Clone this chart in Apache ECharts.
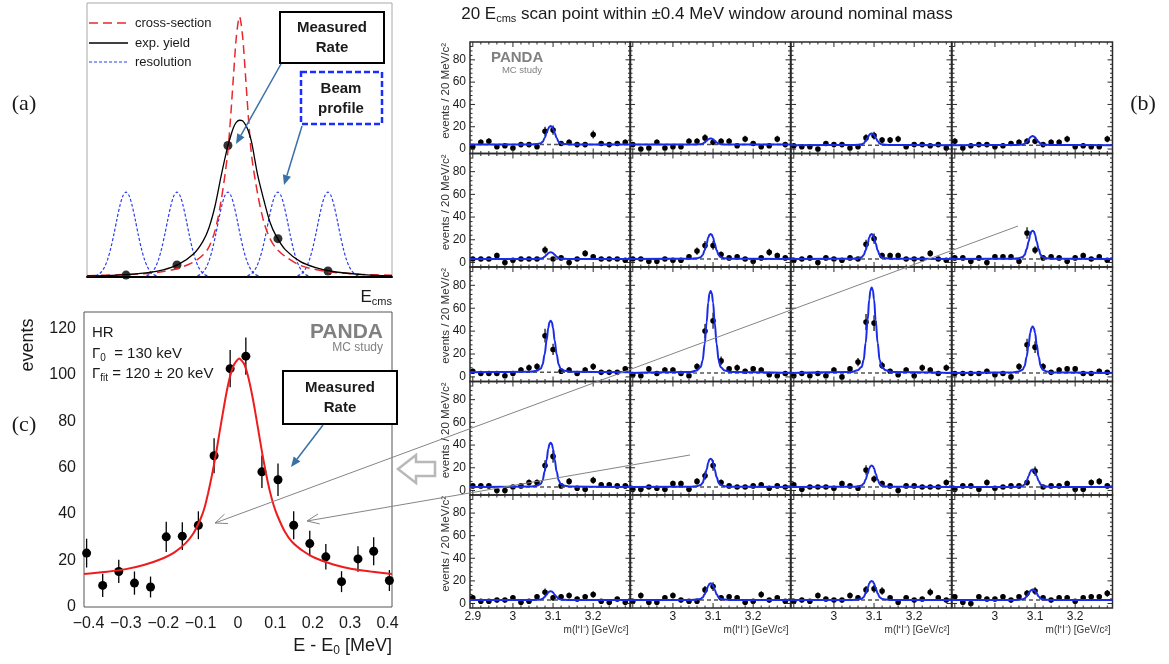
<!DOCTYPE html>
<html>
<head>
<meta charset="utf-8">
<script src="https://cdn.jsdelivr.net/npm/echarts@6/dist/echarts.min.js"></script>
<style>
  html, body { margin: 0; padding: 0; background: #fff; }
  #chart { width: 1169px; height: 664px; }
</style>
</head>
<body>
<div id="chart"></div>
<script>
const FONT = '"Liberation Sans", Arial, sans-serif'
const SERIF = '"Liberation Serif", "Times New Roman", serif'

// ---- (a) schematic: cross-section, yield, beam resolution ----
const aX = [-0.5, -0.4, -0.3, -0.25, -0.2, -0.15, -0.12, -0.1, -0.08, -0.06, -0.04, -0.03, -0.02, -0.01, 0,
  0.01, 0.02, 0.03, 0.04, 0.06, 0.08, 0.1, 0.12, 0.15, 0.2, 0.25, 0.3, 0.4, 0.5]
const aYield = [0.004, 0.007, 0.016, 0.026, 0.046, 0.085, 0.13, 0.18, 0.26, 0.37, 0.47, 0.51, 0.545, 0.565, 0.572,
  0.57, 0.555, 0.53, 0.49, 0.37, 0.28, 0.2, 0.15, 0.1, 0.056, 0.034, 0.021, 0.009, 0.004]
const aXsec = [0.005, 0.008, 0.013, 0.02, 0.032, 0.055, 0.08, 0.11, 0.17, 0.28, 0.44, 0.57, 0.73, 0.88, 0.95,
  0.88, 0.73, 0.57, 0.44, 0.3, 0.2, 0.14, 0.105, 0.075, 0.042, 0.027, 0.018, 0.01, 0.006]
const beamCenters = [-0.372, -0.205, -0.038, 0.126, 0.29]
const beamPeak = 0.31
const beamDx = [-0.1, -0.09, -0.08, -0.07, -0.06, -0.05, -0.04, -0.03, -0.02, -0.01, 0,
  0.01, 0.02, 0.03, 0.04, 0.05, 0.06, 0.07, 0.08, 0.09, 0.1]
const beamShape = [0.013, 0.03, 0.063, 0.12, 0.211, 0.339, 0.5, 0.678, 0.841, 0.958, 1,
  0.958, 0.841, 0.678, 0.5, 0.339, 0.211, 0.12, 0.063, 0.03, 0.013]
const ratePoints = [0.007, 0.044, 0.48, 0.14, 0.022]

// ---- (c) measured rate vs E - E0 ----
const scanE = [-0.405, -0.362, -0.319, -0.277, -0.234, -0.192, -0.149, -0.106, -0.064, -0.021,
  0.021, 0.064, 0.107, 0.149, 0.192, 0.235, 0.277, 0.321, 0.363, 0.405]
const scanEvents = [23.2, 9.3, 15.3, 10.3, 8.6, 30.2, 30.5, 35.2, 65.1, 102.6,
  108, 58.2, 54.8, 35.2, 27.3, 21.6, 10.9, 20.7, 24, 11.4]
const scanErr = [6.2, 5, 5, 5, 4.5, 6.5, 6, 6, 7.5, 8, 8, 7, 7, 6, 5.5, 5.5, 4.5, 5.5, 6, 4.5]
const fitE = [-0.412, -0.35, -0.3, -0.25, -0.2, -0.17, -0.14, -0.12, -0.1, -0.09, -0.08, -0.07, -0.06,
  -0.05, -0.04, -0.03, -0.02, -0.01, 0.003, 0.015, 0.025, 0.035, 0.045, 0.055, 0.065, 0.075, 0.085,
  0.095, 0.105, 0.125, 0.145, 0.175, 0.205, 0.255, 0.305, 0.355, 0.412]
const fitEvents = [14.2, 15.2, 16.3, 18.2, 21, 23.5, 27.5, 31.5, 38, 42.5, 49, 56.5, 65,
  74.5, 84, 93, 100, 104.5, 107, 105, 100.5, 93.5, 85, 75.5, 66, 57.5, 50,
  44, 39.5, 32.5, 28, 24, 21.2, 18.3, 16.4, 15.3, 14.2]
const eLabels = [-0.4, -0.3, -0.2, -0.1, 0, 0.1, 0.2, 0.3, 0.4]
const eventLabels = [0, 20, 40, 60, 80, 100, 120]

// ---- (b) 20 invariant mass spectra ----
const massBins = [2.90, 2.92, 2.94, 2.96, 2.98, 3.00, 3.02, 3.04, 3.06, 3.08,
  3.10, 3.12, 3.14, 3.16, 3.18, 3.20, 3.22, 3.24, 3.26, 3.28]
const scan1 = [2, 6, 7, 2, 3, 1, 4, 4, 2, 16, 17, 5, 6, 4, 4, 13, 5, 4, 5, 6]
const scan2 = [4, 0, 1, 6, 1, 2, 2, 7, 7, 10, 6, 7, 7, 3, 9, 5, 2, 3, 9, 4]
const scan3 = [3, 2, 2, 0, 5, 4, 4, 1, 2, 10, 12, 8, 8, 9, 2, 4, 4, 3, 4, 1]
const scan4 = [7, 1, 3, 4, 4, 2, 3, 5, 6, 7, 7, 4, 6, 6, 9, 2, 3, 2, 2, 9]
const scan5 = [3, 3, 3, 6, 0, 2, 3, 3, 3, 11, 3, 4, 0, 3, 8, 5, 3, 3, 3, 2]
const scan6 = [3, 3, 1, 1, 3, 2, 2, 5, 10, 15, 15, 7, 4, 5, 3, 1, 4, 9, 6, 4]
const scan7 = [2, 3, 4, 0, 4, 3, 2, 4, 3, 16, 21, 6, 6, 6, 3, 3, 3, 8, 3, 2]
const scan8 = [4, 4, 1, 4, 0, 5, 5, 5, 1, 26, 11, 4, 5, 4, 1, 4, 6, 3, 5, 2]
const scan9 = [5, 3, 3, 3, 1, 3, 6, 8, 9, 36, 24, 5, 6, 3, 6, 9, 4, 4, 4, 7]
const scan10 = [2, 1, 7, 3, 6, 6, 3, 1, 9, 40, 49, 14, 7, 8, 5, 7, 6, 2, 1, 3]
const scan11 = [1, 3, 1, 3, 1, 6, 0, 7, 13, 48, 47, 10, 5, 2, 6, 1, 8, 6, 3, 8]
const scan12 = [3, 3, 3, 3, 5, 2, 3, 0, 9, 28, 26, 9, 4, 6, 7, 7, 3, 3, 5, 4]
const scan13 = [4, 4, 4, 0, 0, 3, 4, 7, 7, 22, 30, 4, 8, 2, 1, 9, 5, 5, 4, 4]
const scan14 = [1, 1, 3, 2, 1, 6, 6, 1, 8, 13, 22, 7, 4, 3, 3, 4, 5, 2, 4, 3]
const scan15 = [5, 1, 3, 3, 3, 2, 6, 4, 2, 18, 10, 6, 4, 0, 4, 4, 3, 3, 3, 7]
const scan16 = [1, 4, 4, 1, 7, 2, 3, 4, 4, 7, 17, 3, 4, 4, 6, 1, 1, 7, 8, 4]
const scan17 = [5, 2, 2, 3, 3, 5, 1, 2, 6, 10, 5, 6, 7, 4, 6, 8, 2, 1, 4, 1]
const scan18 = [2, 7, 1, 1, 5, 7, 3, 2, 2, 12, 15, 5, 6, 5, 1, 2, 8, 3, 5, 2]
const scan19 = [2, 3, 2, 7, 4, 3, 3, 7, 5, 12, 13, 11, 5, 1, 5, 3, 4, 10, 5, 3]
const scan20 = [6, 1, 0, 6, 4, 4, 6, 3, 6, 9, 11, 5, 3, 5, 5, 2, 5, 6, 6, 9]
const scans = [scan1, scan2, scan3, scan4, scan5, scan6, scan7, scan8, scan9, scan10,
  scan11, scan12, scan13, scan14, scan15, scan16, scan17, scan18, scan19, scan20]
const fitTop = [20.6, 9.5, 14, 11.6, 9, 25, 25, 28, 49, 75, 78, 44, 42, 28, 22, 18.5, 10.8, 17.8, 20, 12.3]
const fitBg = [4, 4, 3.5, 3.5, 3, 3, 3, 3, 4, 3.5, 3.5, 3.5, 3, 3, 3, 3, 3, 3, 3, 3]
const fitMass = 3.094
const peakDx = [-0.05, -0.035, -0.025, -0.02, -0.015, -0.01, -0.006, -0.003, 0, 0.003, 0.006, 0.01, 0.015, 0.02, 0.025, 0.035, 0.05]
const peakShape = [0.01, 0.03, 0.07, 0.15, 0.35, 0.62, 0.86, 0.97, 1, 0.97, 0.86, 0.62, 0.35, 0.15, 0.07, 0.03, 0.01]
const massLabelsFirst = [2.9, 3, 3.1, 3.2]
const massLabels = [3, 3.1, 3.2]
const countLabels = [0, 20, 40, 60, 80]

const grid = []
const xAxis = []
const yAxis = []
const series = []
const graphic = []

function axis(gi, min, max, labels, fmt, size, margin) {
  return {
    gridIndex: gi, type: 'value', min: min, max: max,
    axisLine: { show: false }, axisTick: { show: false }, splitLine: { show: false },
    axisLabel: labels ? {
      show: true, customValues: labels, formatter: fmt, fontSize: size,
      fontFamily: FONT, color: '#1a1a1a', margin: margin
    } : { show: false }
  }
}

function errItem(r, lw) {
  return function(params, api) {
    const x = api.value(0)
    const y = api.value(1)
    const e = api.value(2)
    const p = api.coord([x, y])
    const hi = api.coord([x, y + e])
    const lo = api.coord([x, y - e])
    return {
      type: 'group',
      children: [
        { type: 'line', shape: { x1: p[0], y1: hi[1], x2: p[0], y2: lo[1] }, style: { stroke: '#000', lineWidth: lw }},
        { type: 'circle', shape: { cx: p[0], cy: p[1], r: r }, style: { fill: '#000' }}
      ]
    }
  }
}

// ROOT style ticks drawn inside the frame on all four sides
function tickItem(params, api) {
  const cs = params.coordSys
  const side = api.value(2)
  const len = api.value(3)
  const p = api.coord([api.value(0), api.value(1)])
  let s
  if (side === 0) s = { x1: p[0], y1: cs.y + cs.height, x2: p[0], y2: cs.y + cs.height - len }
  else if (side === 1) s = { x1: p[0], y1: cs.y, x2: p[0], y2: cs.y + len }
  else if (side === 2) s = { x1: cs.x, y1: p[1], x2: cs.x + len, y2: p[1] }
  else s = { x1: cs.x + cs.width, y1: p[1], x2: cs.x + cs.width - len, y2: p[1] }
  return { type: 'line', shape: s, style: { stroke: '#2a2a2a', lineWidth: 1 }}
}

// ---------- panel (a) ----------
grid.push({ left: 87, top: 3, width: 305, height: 274, show: true, borderColor: '#a8a8a8', borderWidth: 1 })
xAxis.push({
  gridIndex: 0, type: 'value', min: -0.5, max: 0.5,
  axisLine: { show: true, onZero: false, lineStyle: { color: '#000', width: 2 }},
  axisTick: { show: false }, axisLabel: { show: false }, splitLine: { show: false }
})
yAxis.push(axis(0, 0, 1, null))
beamCenters.forEach(function(c) {
  series.push({
    type: 'line', xAxisIndex: 0, yAxisIndex: 0, symbol: 'none', smooth: 0.3,
    data: beamDx.map(function(d, k) { return [c + d, beamPeak * beamShape[k]] }),
    lineStyle: { color: '#2a3cf0', width: 1.2, type: [3, 2] }
  })
})
series.push({
  type: 'line', xAxisIndex: 0, yAxisIndex: 0, symbol: 'none', smooth: 0.3,
  data: aX.map(function(x, i) { return [x, aXsec[i]] }),
  lineStyle: { color: '#e8282e', width: 1.5, type: [9, 5] }
})
series.push({
  type: 'line', xAxisIndex: 0, yAxisIndex: 0, symbol: 'none', smooth: 0.3,
  data: aX.map(function(x, i) { return [x, aYield[i]] }),
  lineStyle: { color: '#000', width: 1.3 }
})
series.push({
  type: 'scatter', xAxisIndex: 0, yAxisIndex: 0, symbolSize: 9,
  itemStyle: { color: '#000' },
  data: beamCenters.map(function(x, i) { return [x, ratePoints[i]] })
})

// ---------- panel (c) ----------
grid.push({ left: 84, top: 312, width: 308, height: 295, show: true, borderColor: '#555', borderWidth: 1 })
xAxis.push(axis(1, -0.412, 0.412, eLabels, function(v) {
  if (Math.abs(v) < 1e-9) return '0'
  return (v < 0 ? '\u2212' : '') + Math.abs(v).toFixed(1)
}, 16, 9))
yAxis.push(axis(1, 0, 127, eventLabels, function(v) { return String(v) }, 16, 8))
series.push({
  type: 'line', xAxisIndex: 1, yAxisIndex: 1, symbol: 'none', smooth: 0.2,
  data: fitE.map(function(x, i) { return [x, fitEvents[i]] }),
  lineStyle: { color: '#ee1c1c', width: 2 }
})
series.push({
  type: 'custom', xAxisIndex: 1, yAxisIndex: 1, renderItem: errItem(4.5, 1.3),
  encode: { x: 0, y: 1 },
  data: scanE.map(function(x, i) { return [x, scanEvents[i], scanErr[i]] })
})

// ---------- panel (b) ----------
const colLeft = [470, 630, 791, 952]
const colW = 160.5
const rowTop = [42, 153.5, 267, 381.5, 495, 608]
const mMin = 2.893
const mMax = 3.293
const nMin = -4
const nMax = 96

const tickData = []
for (let k = 0; k < 20; k++) {
  const v = 2.9 + 0.02 * k
  const major = k % 5 === 0
  tickData.push([v, nMin, 0, major ? 5 : 2.5], [v, nMin, 1, major ? 5 : 2.5])
}
for (let v = 0; v <= 92; v += 4) {
  const major = v % 20 === 0
  tickData.push([mMin, v, 2, major ? 5 : 2.5], [mMin, v, 3, major ? 5 : 2.5])
}

scans.forEach(function(counts, i) {
  const r = Math.floor(i / 4)
  const c = i % 4
  const gi = grid.length
  grid.push({
    left: colLeft[c], top: rowTop[r], width: colW, height: rowTop[r + 1] - rowTop[r],
    show: true, borderColor: '#2a2a2a', borderWidth: 1.5
  })
  const xl = r === 4 ? (c === 0 ? massLabelsFirst : massLabels) : null
  xAxis.push(axis(gi, mMin, mMax, xl, function(v) { return String(Math.round(v * 10) / 10) }, 12, 3))
  yAxis.push(axis(gi, nMin, nMax, c === 0 ? countLabels : null, function(v) { return String(v) }, 12, 4))
  series.push({
    type: 'line', xAxisIndex: gi, yAxisIndex: gi, symbol: 'none',
    data: [[mMin, fitBg[i]], [mMax, fitBg[i]]],
    lineStyle: { color: '#555', width: 1.5, type: [4, 3] }
  })
  series.push({
    type: 'custom', xAxisIndex: gi, yAxisIndex: gi, renderItem: errItem(2.8, 1.2),
    encode: { x: 0, y: 1 },
    data: counts.map(function(v, k) { return [massBins[k], v, Math.sqrt(v)] })
  })
  const amp = fitTop[i] - fitBg[i]
  const fit = [[mMin, fitBg[i]]]
    .concat(peakDx.map(function(d, k) { return [fitMass + d, fitBg[i] + amp * peakShape[k]] }))
    .concat([[mMax, fitBg[i]]])
  series.push({
    type: 'line', xAxisIndex: gi, yAxisIndex: gi, symbol: 'none', smooth: 0.4, smoothMonotone: 'x',
    data: fit, lineStyle: { color: '#1a2ce8', width: 2 }
  })
  series.push({
    type: 'custom', xAxisIndex: gi, yAxisIndex: gi, renderItem: tickItem,
    encode: { x: 0, y: 1 }, data: tickData
  })
})

// ---------- annotations ----------
function txt(x, y, text, size, o) {
  o = o || {}
  return {
    type: 'text', x: x, y: y, rotation: o.rot || 0, z: 100,
    style: {
      text: text, fontSize: size, fontFamily: o.family || FONT,
      fontWeight: o.bold ? 'bold' : 'normal', fill: o.color || '#1a1a1a',
      align: o.align || 'left', verticalAlign: 'middle',
      textAlign: o.align || 'left', textVerticalAlign: 'middle',
      rich: o.rich
    }
  }
}
function subRich(size, pad) {
  return { s: { fontSize: size, fontFamily: FONT, fill: '#1a1a1a', padding: [pad, 0, 0, 0] }}
}
function arrow(x1, y1, x2, y2, color, lw, head, filled) {
  const a = Math.atan2(y2 - y1, x2 - x1)
  const hw = head * 0.42
  const bx = x2 - head * Math.cos(a)
  const by = y2 - head * Math.sin(a)
  const l = [bx + hw * Math.sin(a), by - hw * Math.cos(a)]
  const r = [bx - hw * Math.sin(a), by + hw * Math.cos(a)]
  graphic.push({
    type: 'line', z: 100,
    shape: { x1: x1, y1: y1, x2: filled ? bx : x2, y2: filled ? by : y2 },
    style: { stroke: color, lineWidth: lw }
  })
  if (filled) {
    graphic.push({ type: 'polygon', z: 100, shape: { points: [[x2, y2], l, r] }, style: { fill: color }})
  } else {
    graphic.push({ type: 'polyline', z: 100, shape: { points: [l, [x2, y2], r] }, style: { stroke: color, lineWidth: lw, fill: null }})
  }
}
function box(x, y, w, h, stroke, lw, dash) {
  graphic.push({
    type: 'rect', z: 100, shape: { x: x, y: y, width: w, height: h },
    style: { fill: '#fff', stroke: stroke, lineWidth: lw, lineDash: dash || null }
  })
}

graphic.push(txt(707, 14, '20 E{s|cms} scan point within \u00b10.4 MeV window around nominal mass', 17,
  { align: 'center', rich: subRich(11, 10) }))
graphic.push(txt(24, 104, '(a)', 22, { align: 'center', family: SERIF }))
graphic.push(txt(1143, 104, '(b)', 22, { align: 'center', family: SERIF }))
graphic.push(txt(24, 425, '(c)', 22, { align: 'center', family: SERIF }))

// legend of (a)
const legendRows = [
  ['cross-section', '#e8282e', [9, 5], 1.5, 23],
  ['exp. yield', '#000', null, 1.3, 43],
  ['resolution', '#2a3cf0', [3, 2], 1.2, 62]
]
legendRows.forEach(function(l) {
  graphic.push({ type: 'line', z: 100, shape: { x1: 89, y1: l[4], x2: 128, y2: l[4] },
    style: { stroke: l[1], lineWidth: l[3], lineDash: l[2] }})
  graphic.push(txt(135, l[4], l[0], 13))
})
graphic.push(txt(392, 297, 'E{s|cms}', 17, { align: 'right', rich: subRich(11, 10) }))

box(280, 12, 104, 51, '#000', 2)
graphic.push(txt(332, 28, 'Measured', 15, { align: 'center', bold: true }))
graphic.push(txt(332, 48, 'Rate', 15, { align: 'center', bold: true }))
box(301, 72, 81, 52, '#1a2eff', 2.5, [6, 3])
graphic.push(txt(341, 89, 'Beam', 15, { align: 'center', bold: true }))
graphic.push(txt(341, 109, 'profile', 15, { align: 'center', bold: true }))
arrow(281, 64, 236, 144, '#3a70a8', 1.5, 10, true)
arrow(302, 126, 284, 185, '#3a70a8', 1.5, 10, true)

// (c) annotations
graphic.push(txt(92, 333, 'HR', 15))
graphic.push(txt(92, 354, '\u0393{s|0}  = 130 keV', 15, { rich: subRich(10, 9) }))
graphic.push(txt(92, 374, '\u0393{s|fit} = 120 \u00b1 20 keV', 15, { rich: subRich(10, 9) }))
graphic.push(txt(383, 332, 'PANDA', 21, { align: 'right', bold: true, color: '#808080' }))
graphic.push(txt(383, 348, 'MC study', 12, { align: 'right', color: '#808080' }))
graphic.push(txt(28, 345, 'events', 18, { align: 'center', rot: Math.PI / 2 }))
graphic.push(txt(392, 646, 'E - E{s|0} [MeV]', 18, { align: 'right', rich: subRich(12, 10) }))
box(283, 371, 114, 53, '#000', 2)
graphic.push(txt(340, 388, 'Measured', 15, { align: 'center', bold: true }))
graphic.push(txt(340, 408, 'Rate', 15, { align: 'center', bold: true }))
arrow(323, 425, 291, 467, '#3a70a8', 1.5, 10, true)

// (b) annotations
graphic.push(txt(491, 58, 'PANDA', 15, { bold: true, color: '#808080' }))
graphic.push(txt(542, 70, 'MC study', 9.5, { align: 'right', color: '#808080' }))
for (let r = 0; r < 5; r++) {
  graphic.push(txt(446, rowTop[r] + 1, 'events / 20 MeV/c\u00b2', 11.5, { align: 'right', rot: Math.PI / 2, color: '#333' }))
}
for (let c = 0; c < 4; c++) {
  graphic.push(txt(colLeft[c] + colW - 2, 630, 'm(l\u207al\u207b) [GeV/c\u00b2]', 10, { align: 'right', color: '#333' }))
}

// links from the spectra to the scan points
graphic.push({
  type: 'polygon', z: 99,
  shape: { points: [[398, 469], [416, 455], [416, 462], [435, 462], [435, 476], [416, 476], [416, 483]] },
  style: { fill: '#fff', stroke: '#b8b8b8', lineWidth: 2.5 }
})
arrow(1018, 226, 215, 523, '#858585', 1, 12, false)
arrow(690, 455, 307, 521, '#858585', 1, 12, false)

const chart = echarts.init(document.getElementById('chart'))
chart.setOption({
  animation: false,
  backgroundColor: '#fff',
  grid: grid,
  xAxis: xAxis,
  yAxis: yAxis,
  series: series,
  graphic: graphic
})
</script>
</body>
</html>
